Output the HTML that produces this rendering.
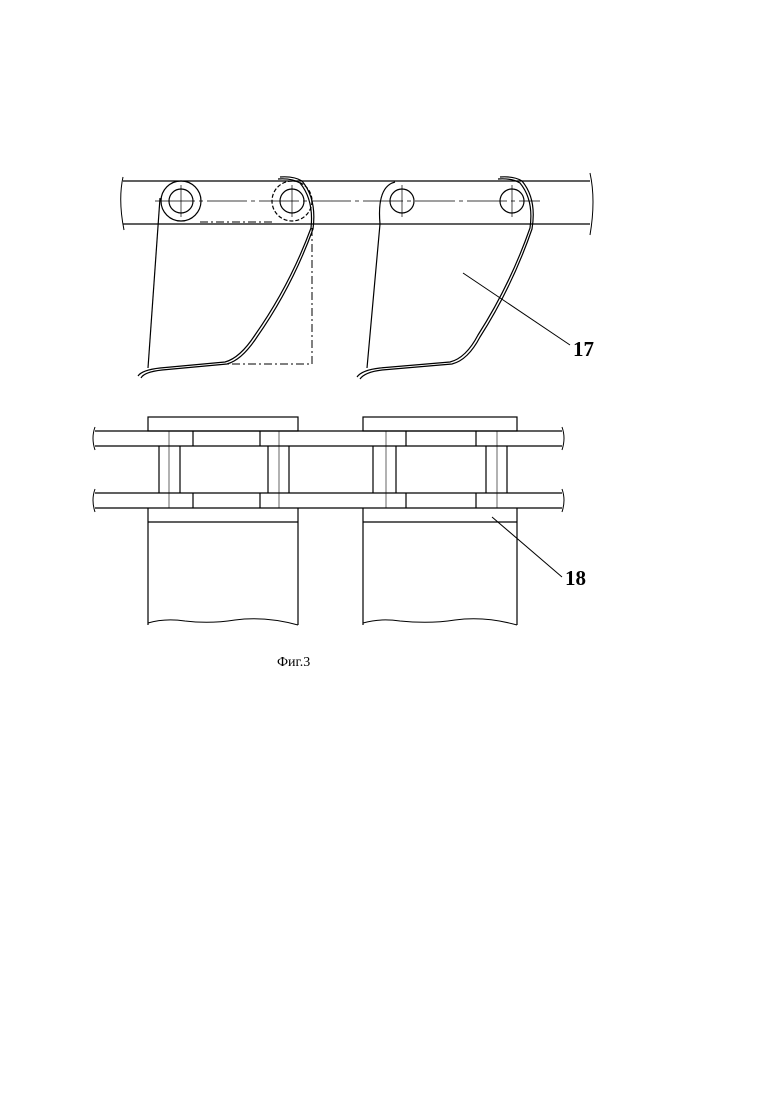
<!DOCTYPE html><html><head><meta charset="utf-8"><style>body{margin:0;background:#fff}svg{display:block}</style></head><body>
<svg width="780" height="1103" viewBox="0 0 780 1103" xmlns="http://www.w3.org/2000/svg" fill="none" stroke="#000" stroke-width="1.2">
<!-- top view band -->
<path d="M123 181 L590 181 M123 224 L590 224"/>
<path d="M123 177 Q118 200 124 230 M590 173 Q596 200 590 235" stroke-width="1"/>
<path d="M155 201 L540 201" stroke-width="0.8" stroke-dasharray="40 4 4 4"/>
<!-- circles -->
<circle cx="181" cy="201" r="20"/><circle cx="181" cy="201" r="12"/>
<circle cx="292" cy="201" r="20" stroke-dasharray="4 2"/><circle cx="292" cy="201" r="12"/>
<circle cx="402" cy="201" r="12"/><circle cx="512" cy="201" r="12"/>
<path d="M181 185 V217 M292 185 V217 M402 185 V217 M512 185 V217" stroke-width="0.7"/>
<!-- plate 1 -->
<path d="M160 198 L148 368"/>
<path d="M138 376 Q142 370 160 368 L225 362 Q240 358 255 335 Q290 285 311 228 Q314 200 300 183 Q292 178 278 179"/>
<path d="M141 378 Q144 372 162 370 L227 364 Q242 360 257 337 Q292 287 313 229 Q317 199 302 181 Q294 176 280 177"/>
<path d="M312 228 V364 H227 M200 222 H275" stroke-dasharray="8 3 2 3" stroke-width="1"/>
<!-- plate 2 -->
<path d="M380 224 L367 368 M380 224 Q377 190 392 183 L395 182"/>
<path d="M357 377 Q362 370 380 368 L450 362 Q466 358 478 335 Q510 285 530 228 Q534 200 520 183 Q512 178 498 179"/>
<path d="M360 379 Q365 372 382 370 L452 364 Q468 360 480 337 Q512 287 532 229 Q537 199 522 181 Q514 176 500 177"/>
<path d="M463 273 L570 345" stroke-width="1"/>
<text x="573" y="356" font-family="Liberation Serif,serif" font-weight="bold" font-size="21" fill="#000" stroke="none">17</text>
<!-- bottom view -->
<rect x="148" y="417" width="150" height="14"/><rect x="363" y="417" width="154" height="14"/>
<path d="M95 431 H562 M95 446 H562 M95 493 H562 M95 508 H562"/>
<path d="M95 427 Q91 438 95 450 M95 489 Q91 500 95 512 M562 427 Q566 438 562 450 M562 489 Q566 500 562 512" stroke-width="1"/>
<path d="M193 431 V446 M260 431 V446 M406 431 V446 M476 431 V446 M193 493 V508 M260 493 V508 M406 493 V508 M476 493 V508"/>
<path d="M159 446 V493 M180 446 V493 M268 446 V493 M289 446 V493 M373 446 V493 M396 446 V493 M486 446 V493 M507 446 V493"/>
<path d="M169 431 V508 M279 431 V508 M386 431 V508 M497 431 V508" stroke-width="0.6"/>
<path d="M148 508 V625 M298 508 V625 M148 522 H298 M363 508 V625 M517 508 V625 M363 522 H517"/>
<path d="M148 623 Q165 618 185 621 Q210 624 235 620 Q265 616 298 625 M363 623 Q380 618 400 621 Q430 624 455 620 Q485 616 517 625" stroke-width="1"/>
<path d="M492 517 L562 577" stroke-width="1"/>
<text x="565" y="585" font-family="Liberation Serif,serif" font-weight="bold" font-size="21" fill="#000" stroke="none">18</text>
<text x="277" y="666" font-family="Liberation Serif,serif" font-size="14" fill="#000" stroke="none">Фиг.3</text>
</svg></body></html>
